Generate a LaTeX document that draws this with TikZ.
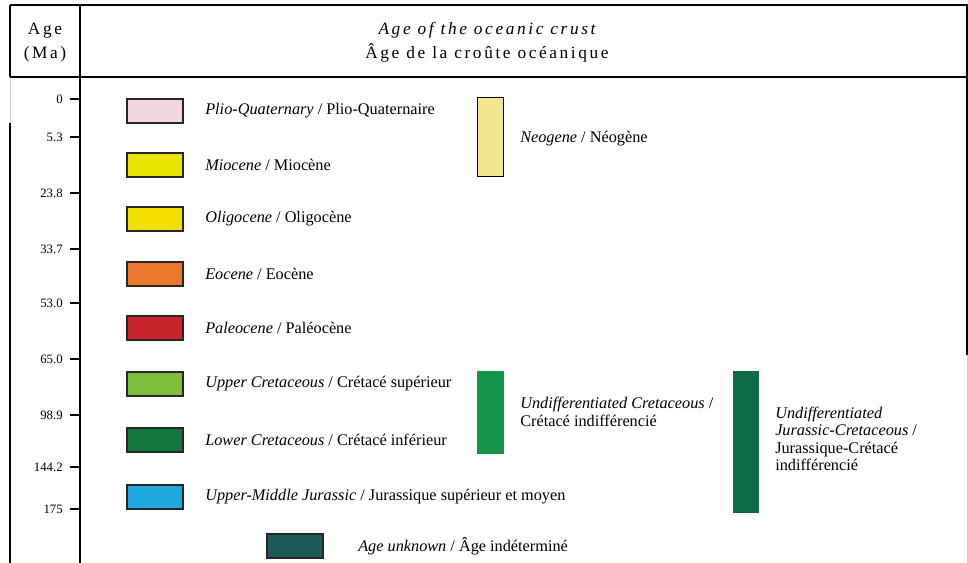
\documentclass[tikz,border=0pt]{standalone}
\usepackage{fontspec}
\setmainfont{Liberation Serif}
\newfontfamily\spacedfont[LetterSpace=15]{Liberation Serif}
\definecolor{cPlio}{HTML}{F3D6DF}
\definecolor{cMio}{HTML}{EAE400}
\definecolor{cOli}{HTML}{F2DF00}
\definecolor{cEoc}{HTML}{EA772C}
\definecolor{cPal}{HTML}{C9242B}
\definecolor{cUCr}{HTML}{7DBF3C}
\definecolor{cLCr}{HTML}{13773D}
\definecolor{cJur}{HTML}{1FA8DF}
\definecolor{cUnk}{HTML}{1C5A5A}
\definecolor{cNeo}{HTML}{F4E68C}
\definecolor{cUCret}{HTML}{159449}
\definecolor{cJC}{HTML}{0D6B45}
\tikzset{
  frame/.style={line width=0.9pt,black},
  faint/.style={line width=0.6pt,black!18},
  swatch/.style={draw=black!85,line width=0.8pt,minimum width=42pt,minimum height=18pt,inner sep=0pt},
  leg/.style={anchor=west,inner sep=0pt,font=\fontsize{12.2}{13}\selectfont,align=left},
  tickl/.style={anchor=east,inner sep=0pt,font=\fontsize{9.6}{11}\selectfont},
  tickline/.style={line width=0.8pt},
  hdr/.style={inner sep=0pt,align=center,font=\fontsize{13}{18}\spacedfont},
  bar/.style={line width=0.6pt}
}
\begin{document}
\begin{tikzpicture}[x=0.75pt,y=-0.75pt]
\useasboundingbox (0,0) rectangle (968,563);
% frame
\coordinate (tl) at (10,5);
\coordinate (tr) at (967,5);
\coordinate (hl) at (10,77);
\coordinate (hr) at (967,77);
\coordinate (gapb) at (10,123);
\coordinate (bl) at (10,563);
\coordinate (dt) at (80,5);
\coordinate (db) at (80,563);
\coordinate (rb) at (967,355);
\coordinate (rbb) at (967,563);
\draw[frame] (tl) -- (tr) -- (rb);
\draw[faint] (rb) -- (rbb);
\draw[frame] (tl) -- (hl);
\draw[faint] (hl) -- (gapb);
\draw[frame] (gapb) -- (bl);
\draw[frame] (hl) -- (hr);
\draw[frame] (dt) -- (db);
% header
\node[hdr] (hage) at (45,43) {Age\\(Ma)};
\node[hdr] (htitle) at (487,42) {\itshape Age of the oceanic crust\\Âge de la croûte océanique};
% ticks
\foreach \lab/\yy/\nm in {0/99/t0,5.3/137/t1,23.8/193/t2,33.7/249/t3,53.0/303/t4,65.0/359/t5,98.9/415/t6,144.2/467/t7,175/509/t8}{
  \coordinate (\nm a) at (70,\yy);
  \coordinate (\nm b) at (80,\yy);
  \draw[tickline] (\nm a) -- (\nm b);
  \node[tickl] (\nm l) at (63,\yy) {\lab};
}
% swatches and labels
\node[swatch,fill=cPlio] (s1) at (155,111) {};
\node[leg] (l1) at (205,111) {\textit{Plio-Quaternary} / Plio-Quaternaire};
\node[swatch,fill=cMio] (s2) at (155,165) {};
\node[leg] (l2) at (205,165) {\textit{Miocene} / Miocène};
\node[swatch,fill=cOli] (s3) at (155,219) {};
\node[leg] (l3) at (205,219) {\textit{Oligocene} / Oligocène};
\node[swatch,fill=cEoc] (s4) at (155,274) {};
\node[leg] (l4) at (205,274) {\textit{Eocene} / Eocène};
\node[swatch,fill=cPal] (s5) at (155,328) {};
\node[leg] (l5) at (205,328) {\textit{Paleocene} / Paléocène};
\node[swatch,fill=cUCr] (s6) at (155,384) {};
\node[leg] (l6) at (205,384) {\textit{Upper Cretaceous} / Crétacé supérieur};
\node[swatch,fill=cLCr] (s7) at (155,440) {};
\node[leg] (l7) at (205,440) {\textit{Lower Cretaceous} / Crétacé inférieur};
\node[swatch,fill=cJur] (s8) at (155,497) {};
\node[leg] (l8) at (205,497) {\textit{Upper-Middle Jurassic} / Jurassique supérieur et moyen};
\node[swatch,fill=cUnk] (s9) at (295,546) {};
\node[leg] (l9) at (358,546) {\textit{Age unknown} / Âge indéterminé};
% grouped bars
\coordinate (nA) at (477,97);
\coordinate (nB) at (503,176);
\draw[bar,fill=cNeo,draw=black] (nA) rectangle (nB);
\node[leg] (ln) at (520,139) {\textit{Neogene} / Néogène};
\coordinate (cA) at (477,371);
\coordinate (cB) at (503,453);
\draw[bar,fill=cUCret,draw=cUCret] (cA) rectangle (cB);
\node[leg] (lc) at (520,412) {\textit{Undifferentiated Cretaceous} /\\Crétacé indifférencié};
\coordinate (jA) at (733,371);
\coordinate (jB) at (758,512);
\draw[bar,fill=cJC,draw=cJC] (jA) rectangle (jB);
\node[leg] (lj) at (775,439) {\textit{Undifferentiated}\\\textit{Jurassic-Cretaceous} /\\Jurassique-Crétacé\\indifférencié};
\end{tikzpicture}
\end{document}
